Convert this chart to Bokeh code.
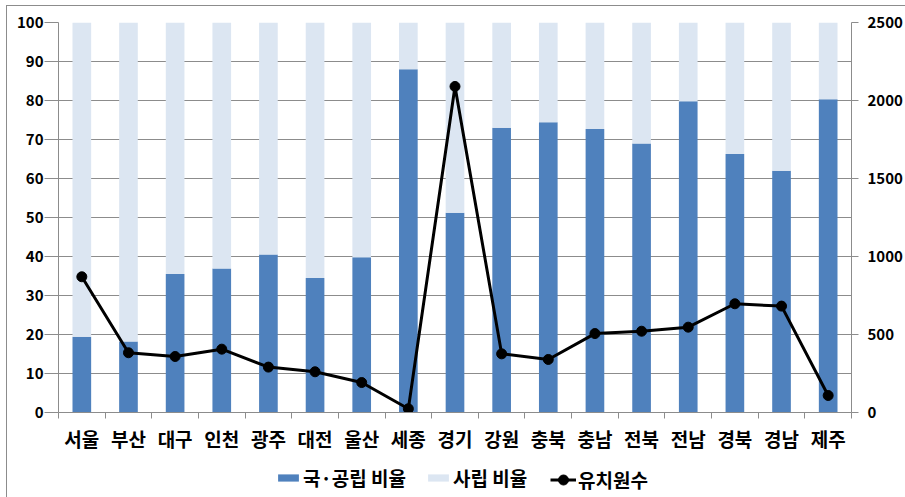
from bokeh.plotting import figure
from bokeh.layouts import column
from bokeh.models import Range1d, LinearAxis, FixedTicker, Legend, LegendItem
from bokeh.embed import file_html
from bokeh.resources import INLINE

regions = ["서울", "부산", "대구", "인천", "광주", "대전", "울산", "세종", "경기",
           "강원", "충북", "충남", "전북", "전남", "경북", "경남", "제주"]
public_ratio = [19.4, 18.2, 35.5, 36.9, 40.5, 34.5, 39.8, 88.0, 51.2,
                73.0, 74.4, 72.7, 69.0, 79.8, 66.3, 62.0, 80.3]
private_ratio = [80.6, 81.8, 64.5, 63.1, 59.5, 65.5, 60.2, 12.0, 48.8,
                 27.0, 25.6, 27.3, 31.0, 20.2, 33.7, 38.0, 19.7]
kindergartens = [870, 383, 359, 406, 291, 261, 192, 24, 2090,
                 376, 340, 506, 521, 547, 697, 682, 109]
left_ticks = [0, 10, 20, 30, 40, 50, 60, 70, 80, 90, 100]
right_ticks = [0, 500, 1000, 1500, 2000, 2500]
series_names = ["국·공립 비율", "사립 비율", "유치원수"]

FONT = "Noto Sans CJK KR"
BLUE = "#4F81BD"
LIGHT = "#DCE6F2"
GRID = "#8C8C8C"

idx = list(range(len(regions)))
private_bottom = public_ratio
private_top = [a + b for a, b in zip(public_ratio, private_ratio)]

p = figure(width=905, height=455, output_backend="svg", toolbar_location=None,
           x_range=Range1d(-0.5, len(regions) - 0.5), y_range=Range1d(0, 100),
           min_border_left=58, min_border_right=52, min_border_top=22,
           min_border_bottom=43)
p.extra_y_ranges = {"cnt": Range1d(0, 2500)}
p.outline_line_color = None
p.background_fill_color = "white"
p.border_fill_color = None

r_pub = p.vbar(x=idx, top=public_ratio, bottom=0, width=0.4,
               fill_color=BLUE, line_color=None)
r_priv = p.vbar(x=idx, top=private_top, bottom=private_bottom, width=0.4,
                fill_color=LIGHT, line_color=None)
r_line = p.line(x=idx, y=kindergartens, y_range_name="cnt",
                line_color="black", line_width=3)
r_pts = p.scatter(x=idx, y=kindergartens, y_range_name="cnt", size=10,
                  fill_color="black", line_color="black")

# x axis
xa = p.xaxis[0]
xa.ticker = FixedTicker(ticks=idx, minor_ticks=[i - 0.5 for i in range(len(regions) + 1)])
xa.major_label_overrides = {i: r for i, r in enumerate(regions)}
xa.major_tick_line_color = None
xa.minor_tick_line_color = GRID
xa.minor_tick_out = 6
xa.minor_tick_in = 0
xa.axis_line_color = GRID
xa.major_label_text_font = FONT
xa.major_label_text_font_style = "bold"
xa.major_label_text_font_size = "19px"
xa.major_label_text_color = "black"
xa.major_label_standoff = 6

# left axis
ya = p.yaxis[0]
ya.ticker = FixedTicker(ticks=left_ticks)
ya.major_tick_out = 14
ya.major_tick_in = 0
ya.major_tick_line_color = GRID
ya.minor_tick_line_color = None
ya.axis_line_color = GRID
ya.major_label_text_font = FONT
ya.major_label_text_font_style = "bold"
ya.major_label_text_font_size = "15px"
ya.major_label_text_color = "black"
ya.major_label_standoff = 1

# right axis
ra = LinearAxis(y_range_name="cnt", ticker=FixedTicker(ticks=right_ticks))
ra.major_tick_out = 7
ra.major_tick_in = 0
ra.major_tick_line_color = GRID
ra.minor_tick_line_color = None
ra.axis_line_color = GRID
ra.major_label_text_font = FONT
ra.major_label_text_font_style = "bold"
ra.major_label_text_font_size = "15px"
ra.major_label_text_color = "black"
ra.major_label_standoff = 9
p.add_layout(ra, "right")

p.xgrid.grid_line_color = None
p.ygrid.grid_line_color = GRID
p.ygrid.grid_line_width = 1

# legend strip (separate figure so the legend is not clipped);
# proxy renderers hold one point outside the visible range
leg = figure(width=905, height=42, output_backend="svg", toolbar_location=None,
             x_range=Range1d(0, 1), y_range=Range1d(0, 1),
             x_axis_location=None, y_axis_location=None,
             min_border_left=0, min_border_right=0, min_border_top=0,
             min_border_bottom=0)
leg.outline_line_color = None
leg.border_fill_color = None
leg.background_fill_color = None
leg.grid.visible = False
d_pub = leg.vbar(x=[-5], top=[-5], width=0.4, fill_color=BLUE, line_color=None)
d_priv = leg.vbar(x=[-5], top=[-5], width=0.4, fill_color=LIGHT, line_color=None)
d_line = leg.line(x=[-5, -4], y=[-5, -5], line_color="black", line_width=3)
d_pts = leg.scatter(x=[-5], y=[-5], size=10, fill_color="black", line_color="black")

common = dict(orientation="horizontal", label_text_font=FONT,
              label_text_font_style="bold", label_text_font_size="19px",
              label_text_color="black", glyph_width=26, padding=0, margin=0,
              label_standoff=2, border_line_color=None, background_fill_alpha=0)

legend1 = Legend(items=[
    LegendItem(label=series_names[0], renderers=[d_pub]),
    LegendItem(label=series_names[1], renderers=[d_priv]),
], location=(217, 6), glyph_height=9, label_height=22, spacing=19, **common)
legend2 = Legend(items=[
    LegendItem(label=series_names[2], renderers=[d_line, d_pts]),
], location=(492, 4), glyph_height=25, label_height=22, spacing=19, **common)
leg.add_layout(legend1, "center")
leg.add_layout(legend2, "center")

layout = column(p, leg, spacing=0)
layout.styles = {
    "background": ("linear-gradient(#8C8C8C,#8C8C8C) 6px 5px / 1px 100% no-repeat, "
                   "linear-gradient(#8C8C8C,#8C8C8C) 6px 5px / 100% 1px no-repeat, "
                   "white"),
}
open("out.html", "w").write(file_html(layout, INLINE))
